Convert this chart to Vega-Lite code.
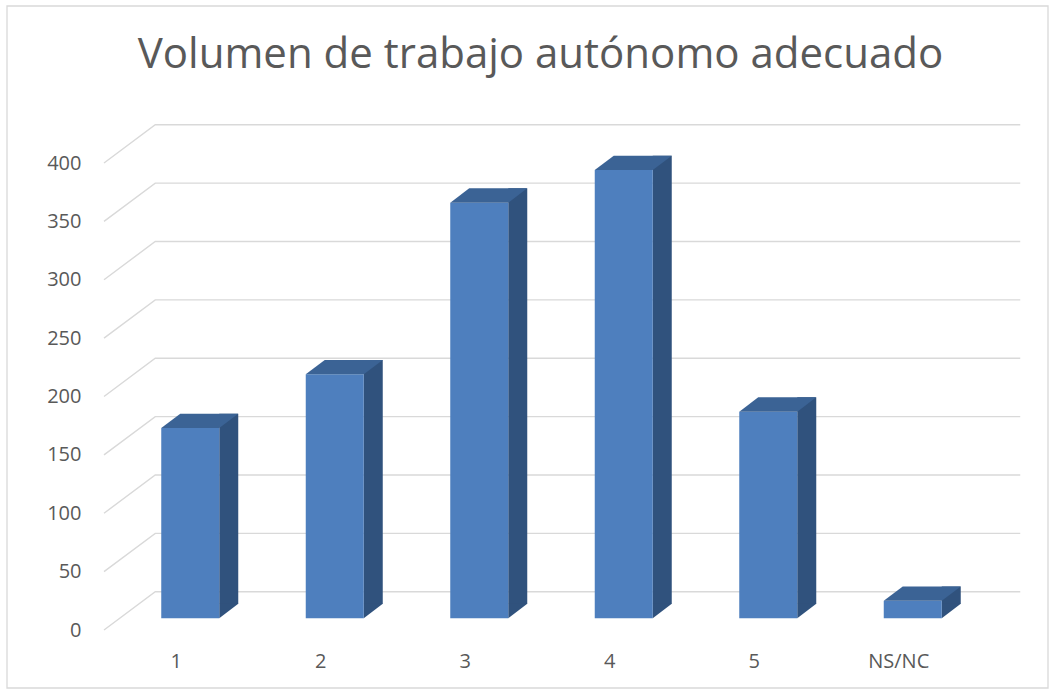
{
  "$schema": "https://vega.github.io/schema/vega-lite/v6.json",
  "autosize": {"type": "none"},
  "padding": {"left": 104, "top": 163, "right": 91, "bottom": 63},
  "width": 867,
  "height": 467,
  "background": "white",
  "config": {"view": {"stroke": null}, "font": "Open Sans"},
  "title": {
    "text": "Volumen de trabajo autónomo adecuado",
    "fontSize": 42,
    "font": "Open Sans",
    "fontWeight": "normal",
    "color": "#595959",
    "anchor": "middle",
    "frame": "group",
    "baseline": "alphabetic",
    "offset": -107,
    "dx": 3
  },
  "data": {
    "values": [
      {"cat": "1", "n": 163},
      {"cat": "2", "n": 209},
      {"cat": "3", "n": 356},
      {"cat": "4", "n": 384},
      {"cat": "5", "n": 177},
      {"cat": "NS/NC", "n": 15}
    ]
  },
  "encoding": {
    "x": {
      "field": "cat",
      "type": "nominal",
      "sort": null,
      "scale": {"paddingInner": 0, "paddingOuter": 0},
      "axis": {
        "title": null,
        "labelAngle": 0,
        "domain": false,
        "ticks": false,
        "labelPadding": 21,
        "labelFontSize": 20,
        "labelColor": "#595959",
        "labelFont": "Open Sans"
      }
    }
  },
  "layer": [
    {
      "data": {"values": [{"frame": "chart"}]},
      "mark": {
        "type": "point",
        "shape": "M -1.6925 -6.24 L 8.7175 -6.24 L 8.7175 0.58 L -1.6925 0.58 Z",
        "size": 40000,
        "filled": false,
        "stroke": "#D9D9D9",
        "strokeWidth": 1.3,
        "opacity": 1
      },
      "encoding": {
        "x": {"datum": "1", "type": "nominal"},
        "y": {"datum": 0, "type": "quantitative"}
      }
    },
    {
      "data": {"values": [{"v": 0}, {"v": 50}, {"v": 100}, {"v": 150}, {"v": 200}, {"v": 250}, {"v": 300}, {"v": 350}, {"v": 400}]},
      "mark": {
        "type": "point",
        "shape": "M -0.7225 0 L -0.21 -0.383 L 8.44 -0.383",
        "size": 40000,
        "filled": false,
        "stroke": "#D9D9D9",
        "strokeWidth": 1.4,
        "opacity": 1
      },
      "encoding": {
        "x": {"datum": "1", "type": "nominal"},
        "y": {
          "field": "v",
          "type": "quantitative",
          "scale": {"domain": [0, 400], "nice": false, "zero": true},
          "axis": {
            "title": null,
            "values": [0, 50, 100, 150, 200, 250, 300, 350, 400],
            "domain": false,
            "ticks": false,
            "tickSize": 0,
            "grid": false,
            "labelPadding": 23,
            "labelFontSize": 20,
            "labelColor": "#595959",
            "labelFont": "Open Sans"
          }
        }
      }
    },
    {
      "mark": {
        "type": "bar",
        "color": "#30527D",
        "width": 19,
        "xOffset": 52.5,
        "yOffset": -26,
        "y2Offset": -26
      },
      "encoding": {
        "y": {"field": "n", "type": "quantitative"},
        "y2": {"datum": 0}
      }
    },
    {
      "mark": {
        "type": "point",
        "shape": "M 0.43 -0.117 L 0.43 -0.262 L 0.62 -0.262 Z",
        "size": 40000,
        "filled": true,
        "color": "#30527D",
        "opacity": 1
      },
      "encoding": {
        "y": {"datum": 0, "type": "quantitative"}
      }
    },
    {
      "mark": {
        "type": "bar",
        "color": "#4E7FBE",
        "width": 58,
        "xOffset": 14,
        "yOffset": -11.7,
        "y2Offset": -11.7
      },
      "encoding": {
        "y": {"field": "n", "type": "quantitative"},
        "y2": {"datum": 0}
      }
    },
    {
      "mark": {
        "type": "point",
        "shape": "M -0.15 -0.117 L 0.43 -0.117 L 0.62 -0.26 L 0.04 -0.26 Z",
        "size": 40000,
        "filled": true,
        "color": "#3B6395",
        "opacity": 1
      },
      "encoding": {
        "y": {"field": "n", "type": "quantitative"}
      }
    }
  ]
}
